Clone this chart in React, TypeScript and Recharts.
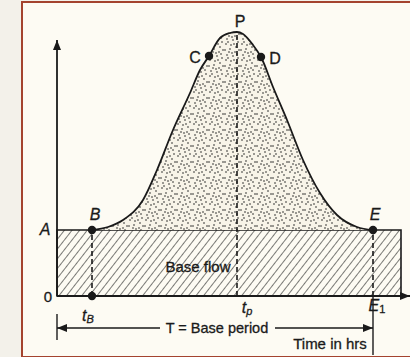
import React from 'react';
import {
  ComposedChart,
  Area,
  XAxis,
  YAxis,
  ReferenceArea,
  ReferenceLine,
  ReferenceDot,
} from 'recharts';

// Hydrograph ordinates, relative time vs relative discharge
const hydroTime = [35, 51, 66, 86, 100, 116, 133, 143, 152, 163, 173, 180, 186, 196, 204, 216, 230, 246, 263, 280, 300, 316];
const hydroFlow = [66, 69, 76, 96, 126, 166, 203, 226, 240, 258, 263, 264, 262, 251, 239, 209, 176, 136, 103, 81, 69, 66];

// Marked points on the curve
const pointNames = ['B', 'C', 'D', 'E'];
const pointTime = [35, 152, 204, 316];
const pointFlow = [66, 240, 239, 66];

const BASE_FLOW = 66;
const T_B = 35;
const T_P = 180;
const T_E = 316;
const T_END = 344;
const PEAK = 262;

const data = hydroTime.map((t, i) => ({ t, q: hydroFlow[i] }));

const INK = '#1a1a1a';
const FONT = '"Liberation Sans", Arial, sans-serif';

// stipple dots inside one pattern tile
const STIPPLE = [
  [1, 2], [6, 1], [11, 4], [3, 7], [9, 8], [14, 10], [2, 12], [7, 13], [12, 15], [5, 4], [15, 2], [10, 12],
  [13, 6], [4, 10], [8, 5],
];

const textShape = (children: React.ReactNode, opts: any = {}) => (p: any) => (
  <text
    x={p.cx}
    y={p.cy}
    textAnchor={opts.anchor || 'middle'}
    dominantBaseline="central"
    fontFamily={FONT}
    fontSize={opts.size || 16}
    fontStyle={opts.italic ? 'italic' : 'normal'}
    fill={INK}
    stroke={INK}
    strokeWidth={0.3}
  >
    {children}
  </text>
);

const Label = ({ x, y, children, ...opts }: any) => (
  <ReferenceDot x={x} y={y} r={0} ifOverflow="visible" shape={textShape(children, opts)} />
);

export default function App() {
  return (
    <div style={{ position: 'absolute', left: 0, top: 0, width: 410, height: 357, background: '#f3f1ea', overflow: 'hidden' }}>
      <div
        style={{
          position: 'absolute',
          left: 21,
          top: 1,
          width: 400,
          height: 353,
          border: '2px solid #a4432e',
          background: '#fdfbf3',
        }}
      />
      <div style={{ position: 'absolute', left: 0, top: 0 }}>
        <ComposedChart width={410} height={357} data={data} margin={{ top: 0, right: 0, bottom: 0, left: 0 }}>
          <defs>
            <pattern id="stipple" width="16" height="16" patternUnits="userSpaceOnUse">
              <rect width="16" height="16" fill="#f8f4e8" />
              {STIPPLE.map(([a, b], i) => (
                <circle key={i} cx={a} cy={b} r={0.8} fill="#222" />
              ))}
            </pattern>
            <pattern id="hatch" width="6" height="6" patternUnits="userSpaceOnUse" patternTransform="rotate(38)">
              <rect width="6" height="6" fill="#fdfbf3" />
              <line x1="0" y1="0" x2="0" y2="6" stroke="#222" strokeWidth={1.2} />
            </pattern>
            <marker id="arrow" viewBox="0 0 10 8" refX="10" refY="4" markerWidth="10" markerHeight="8" markerUnits="userSpaceOnUse" orient="auto">
              <path d="M0,0 L10,4 L0,8 z" fill={INK} />
            </marker>
          </defs>
          <XAxis type="number" dataKey="t" domain={[-57, 353]} allowDataOverflow hide />
          <YAxis type="number" domain={[-61, 296]} allowDataOverflow hide />

          <ReferenceArea x1={0} x2={T_END} y1={0} y2={BASE_FLOW} fill="url(#hatch)" fillOpacity={1} stroke={INK} strokeWidth={1.6} />

          <Area
            type="monotone"
            dataKey="q"
            baseValue={BASE_FLOW}
            stroke={INK}
            strokeWidth={1.8}
            fill="url(#stipple)"
            fillOpacity={1}
            isAnimationActive={false}
            dot={false}
            activeDot={false}
          />

          {/* dashed time markers */}
          <ReferenceLine segment={[{ x: T_B, y: 0 }, { x: T_B, y: BASE_FLOW }]} stroke={INK} strokeWidth={1.6} strokeDasharray="5 3" />
          <ReferenceLine segment={[{ x: T_P, y: 0 }, { x: T_P, y: PEAK }]} stroke={INK} strokeWidth={1.6} strokeDasharray="5 3" />
          <ReferenceLine segment={[{ x: T_E, y: 0 }, { x: T_E, y: BASE_FLOW }]} stroke={INK} strokeWidth={1.6} strokeDasharray="5 3" />
          <ReferenceLine segment={[{ x: T_E, y: 0 }, { x: T_E, y: -59 }]} stroke={INK} strokeWidth={1.4} />
          <ReferenceLine segment={[{ x: 0, y: -18 }, { x: 0, y: -44 }]} stroke={INK} strokeWidth={1.4} />

          {/* axes */}
          <ReferenceLine segment={[{ x: 0, y: 0 }, { x: 0, y: 256 }]} stroke={INK} strokeWidth={1.8} markerEnd="url(#arrow)" />
          <ReferenceLine segment={[{ x: 0, y: 0 }, { x: 353, y: 0 }]} stroke={INK} strokeWidth={1.8} markerEnd="url(#arrow)" />

          {/* base period arrows */}
          <ReferenceLine segment={[{ x: 103, y: -32 }, { x: 0, y: -32 }]} stroke={INK} strokeWidth={1.3} markerEnd="url(#arrow)" />
          <ReferenceLine segment={[{ x: 218, y: -32 }, { x: T_E, y: -32 }]} stroke={INK} strokeWidth={1.3} markerEnd="url(#arrow)" />

          {pointNames.map((n, i) => (
            <ReferenceDot key={n} x={pointTime[i]} y={pointFlow[i]} r={4.2} fill={INK} stroke="none" />
          ))}
          <ReferenceDot x={T_B} y={0} r={4.2} fill={INK} stroke="none" />

          <Label x={183} y={275}>P</Label>
          <Label x={138} y={239}>C</Label>
          <Label x={218} y={238}>D</Label>
          <Label x={38} y={82} italic>B</Label>
          <Label x={318} y={82} italic>E</Label>
          <Label x={-12} y={67} italic>A</Label>
          <Label x={-9} y={0} size={15}>0</Label>
          <Label x={141} y={30} size={15}>Base flow</Label>
          <Label x={31} y={-19} italic>
            <tspan>t</tspan>
            <tspan fontSize={11} dy={4}>B</tspan>
          </Label>
          <Label x={190} y={-11} italic>
            <tspan>t</tspan>
            <tspan fontSize={11} dy={4}>p</tspan>
          </Label>
          <Label x={320} y={-9} italic>
            <tspan>E</tspan>
            <tspan fontSize={11} dy={4} fontStyle="normal">1</tspan>
          </Label>
          <Label x={160} y={-32} size={14.5}>T = Base period</Label>
          <Label x={273} y={-47} size={15}>Time in hrs</Label>
        </ComposedChart>
      </div>
    </div>
  );
}
